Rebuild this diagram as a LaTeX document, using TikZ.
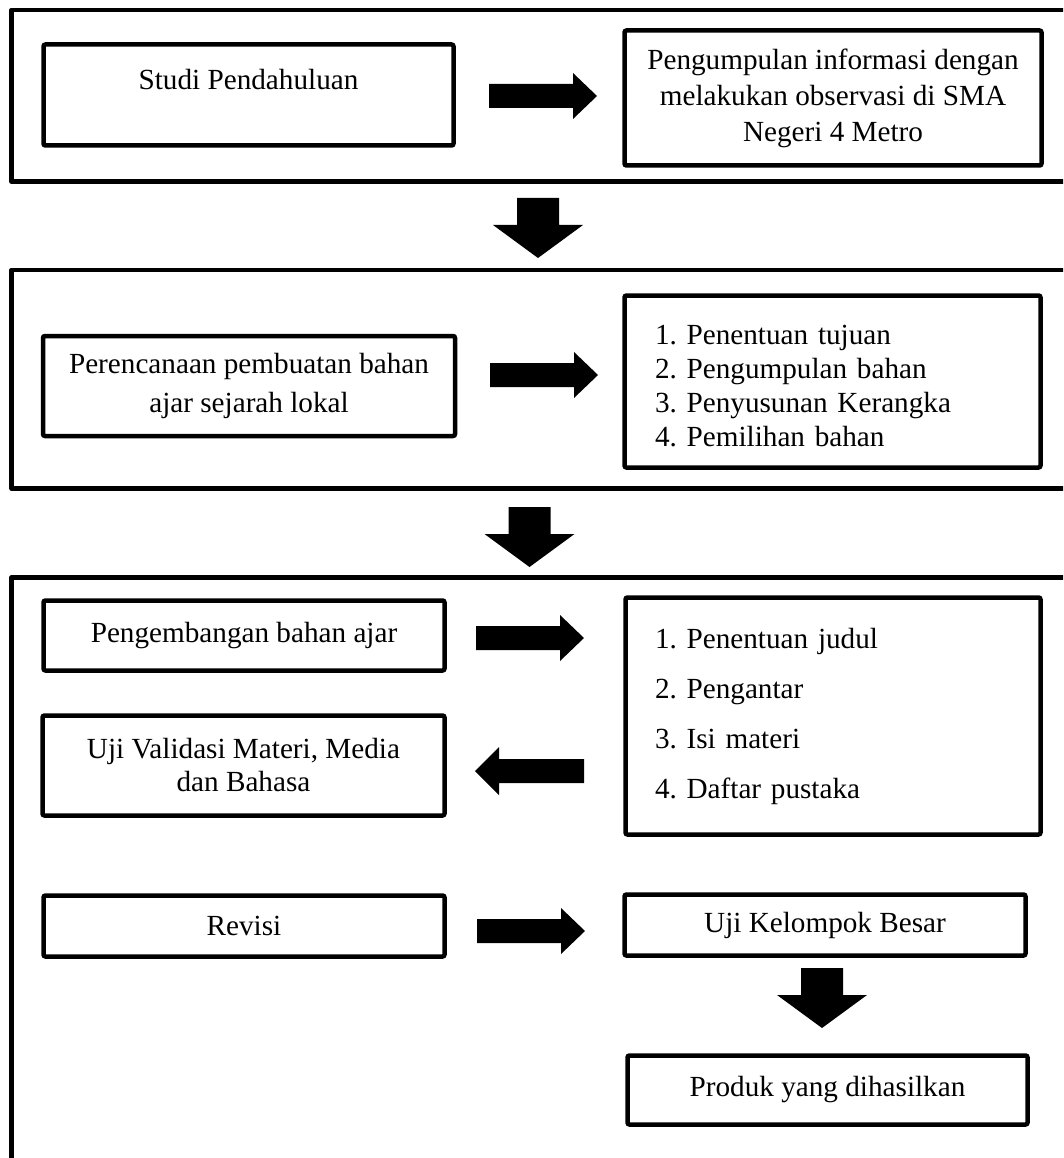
\documentclass[tikz,border=0pt]{standalone}
\usepackage{fontspec}
\setmainfont{Liberation Serif}
\frenchspacing
\tikzset{
  box/.style={draw, line width=4.5pt, rounded corners=2pt, inner sep=0pt, align=center,
    font=\fontsize{29.2}{36}\selectfont},
  frame/.style={line width=4.5pt, line join=round},
  rarr/.pic={\fill (0,-12) -- (84,-12) -- (84,-23) -- (108,0) -- (84,23) -- (84,12) -- (0,12) -- cycle;},
  larr/.pic={\fill (0,-12) -- (-85,-12) -- (-85,-24) -- (-109,0) -- (-85,24) -- (-85,12) -- (0,12) -- cycle;},
  darr/.pic={\fill (-21,0) -- (21,0) -- (21,27) -- (45,27) -- (0,60) -- (-45,27) -- (-21,27) -- cycle;}
}
\begin{document}
\begin{tikzpicture}[x=1pt,y=-1pt]
\useasboundingbox (0,0) rectangle (1063,1158);
\clip (0,0) rectangle (1063,1158);
\fill[white] (0,0) rectangle (1063,1158);
% outer frames (cut at the right and bottom edge)
\draw[frame] (1080,10) -- (11.7,10) -- (11.7,181.7) -- (1080,181.7);
\draw[frame] (1080,270) -- (11.7,270) -- (11.7,488.5) -- (1080,488.5);
\draw[frame] (1080,577.5) -- (11.7,577.5) -- (11.7,1180);
% stage 1
\node[box, minimum width=410pt, minimum height=101pt, text height=20pt, text depth=30pt] (studi) at (248.5,95) {Studi Pendahuluan};
\node[box, minimum width=417pt, minimum height=135pt] (info) at (833,98)
  {Pengumpulan informasi dengan\\ melakukan observasi di SMA\\ Negeri 4 Metro};
\pic at (489,96) {rarr};
\pic at (538,198) {darr};
% stage 2
\node[box, minimum width=412pt, minimum height=100pt, font=\fontsize{29.2}{39}\selectfont] (renc) at (249,386)
  {Perencanaan pembuatan bahan\\ ajar sejarah lokal};
\node[box, align=left, text width=355pt, inner xsep=30.5pt, inner ysep=0pt, minimum height=172pt,
  font=\fontsize{29.2}{34}\selectfont] (langkah) at (832.5,381.5)
  {\rule{0pt}{28pt}1. Penentuan tujuan\\ 2. Pengumpulan bahan\\ 3. Penyusunan Kerangka\\ 4. Pemilihan bahan};
\pic at (490,375) {rarr};
\pic at (529.5,507) {darr};
% stage 3
\node[box, minimum width=401pt, minimum height=70pt] (kembang) at (244,635.5) {Pengembangan bahan ajar};
\node[box, minimum width=402pt, minimum height=100pt, font=\fontsize{29.2}{33}\selectfont] (uji) at (243.5,765.5)
  {Uji Validasi Materi, Media\\ dan Bahasa};
\node[box, align=left, text width=356pt, inner xsep=29.5pt, inner ysep=0pt, minimum height=237pt,
  font=\fontsize{29.2}{50}\selectfont] (isi) at (833,716)
  {1. Penentuan judul\\ 2. Pengantar\\ 3. Isi materi\\ 4. Daftar pustaka};
\node[box, minimum width=401pt, minimum height=61pt] (revisi) at (244,926) {Revisi};
\node[box, minimum width=401pt, minimum height=61pt] (besar) at (825,925) {Uji Kelompok Besar};
\node[box, minimum width=400pt, minimum height=69pt] (produk) at (827.5,1090) {Produk yang dihasilkan};
\pic at (476,638) {rarr};
\pic at (584,771) {larr};
\pic at (477,931) {rarr};
\pic at (822,968) {darr};
\end{tikzpicture}
\end{document}
